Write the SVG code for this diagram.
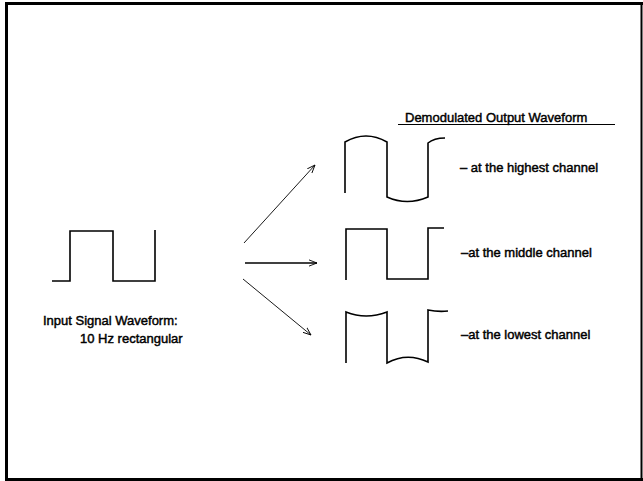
<svg xmlns="http://www.w3.org/2000/svg" width="643" height="481" viewBox="0 0 643 481">
<style>
  .wave { fill: none; stroke: #000; stroke-width: 1.6; stroke-linejoin: miter; }
  .conn { fill: none; stroke: #000; }
  .lbl { font-family: "Liberation Sans", Arial, sans-serif; font-size: 13px; fill: #000; stroke: #000; stroke-width: 0.45; }
</style>
<defs>
  <marker id="arr" viewBox="0 0 10 10" refX="9" refY="5" markerWidth="9" markerHeight="9" markerUnits="userSpaceOnUse" orient="auto">
    <path d="M0,1.5 L9,5 L0,8.5" fill="none" stroke="#000" stroke-width="1"/>
  </marker>
</defs>
<rect x="0" y="0" width="643" height="481" fill="#fff"/>
<g id="frame" fill="none" stroke="#000">
  <line x1="6.5" y1="2" x2="6.5" y2="481" stroke-width="3"/>
  <line x1="5" y1="3.5" x2="643" y2="3.5" stroke-width="3"/>
  <line x1="641.5" y1="2" x2="641.5" y2="481" stroke-width="2"/>
  <line x1="5" y1="479.5" x2="643" y2="479.5" stroke-width="3"/>
</g>
<g id="input">
  <path class="wave" d="M52,281 H70 V231 H113 V281 H155 V230"/>
  <text class="lbl" x="43" y="325">Input Signal Waveform:</text>
  <text class="lbl" x="80" y="343">10 Hz rectangular</text>
</g>
<g id="title">
  <text class="lbl" x="405" y="122">Demodulated Output Waveform</text>
  <line x1="398" y1="124.5" x2="615" y2="124.5" stroke="#000" stroke-width="1.2"/>
</g>
<g id="highest">
  <path class="wave" d="M345,193 V142 Q366,130 387,142 V197 Q407,206 428,197 V143 Q434,138 445,138"/>
  <text class="lbl" x="460" y="172">– at the highest channel</text>
</g>
<g id="middle">
  <path class="wave" d="M346,280 V229 H387 V279 H428 V228 H444"/>
  <text class="lbl" x="461" y="257">–at the middle channel</text>
</g>
<g id="lowest">
  <path class="wave" d="M346,363 V312 Q366,320 387,312 V363 Q407,352 428,362 V310 Q438,312 448,311"/>
  <text class="lbl" x="461" y="339">–at the lowest channel</text>
</g>
<g id="connectors">
  <line class="conn" x1="244" y1="243" x2="315" y2="165" stroke-width="0.9" marker-end="url(#arr)"/>
  <line class="conn" x1="245" y1="263" x2="317" y2="263" stroke-width="1.6" marker-end="url(#arr)"/>
  <line class="conn" x1="243" y1="279" x2="311" y2="335" stroke-width="0.9" marker-end="url(#arr)"/>
</g>
</svg>
